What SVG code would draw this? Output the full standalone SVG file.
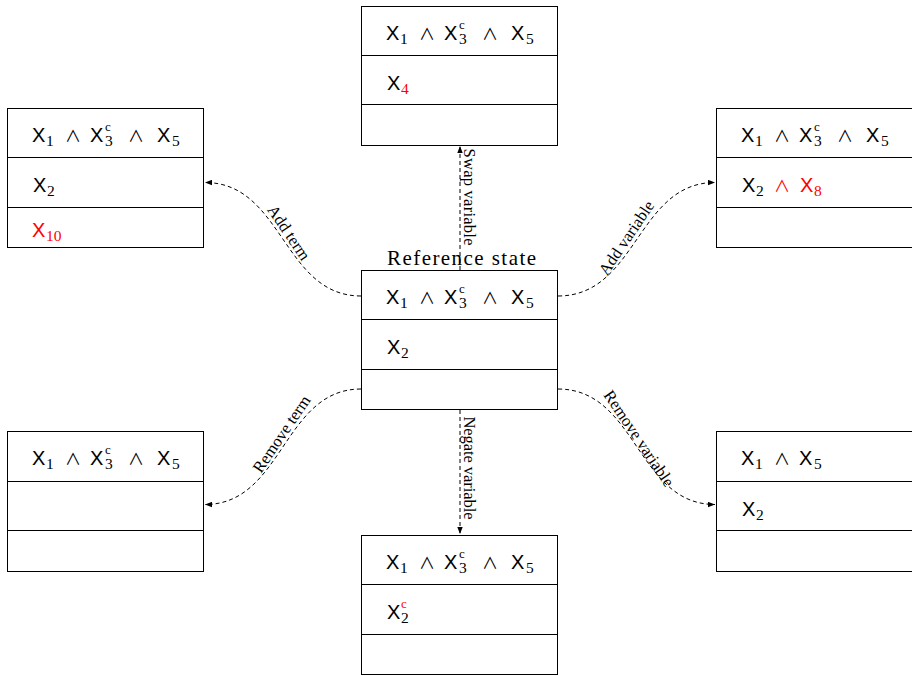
<svg xmlns="http://www.w3.org/2000/svg" width="912" height="676" viewBox="0 0 912 676">
<defs>
<style>
.box{fill:#fff;stroke:#000;stroke-width:1}
.div{stroke:#000;stroke-width:1}
.X{font-family:"Liberation Sans",Arial,sans-serif;font-size:20px}
.sub{font-family:"Liberation Serif","Times New Roman",serif;font-size:15.5px}
.sup{font-family:"Liberation Serif","Times New Roman",serif;font-size:13px}
.op{font-family:"Noto Sans CJK JP","DejaVu Sans",sans-serif;font-weight:400;font-size:16px;text-anchor:middle}
.red{fill:#ff0000}
.edge{fill:none;stroke:#000;stroke-width:1;stroke-dasharray:4 3;marker-end:url(#arr)}
.lbl{font-family:"Liberation Serif","Times New Roman",serif;font-size:16.5px;text-anchor:middle}
.title{font-family:"Liberation Serif","Times New Roman",serif;font-size:21px}
</style>
<marker id="arr" viewBox="0 0 7 6" refX="7" refY="3" markerWidth="7" markerHeight="6" markerUnits="userSpaceOnUse" orient="auto">
<path d="M0,0.3 L7,3 L0,5.7 z" fill="#000"/>
</marker>
</defs>
<rect width="912" height="676" fill="#fff"/>

<g id="connectors">
<path class="edge" d="M361,296 C283,296 283,182.5 205,182.5"/>
<path class="edge" d="M558,296 C637,296 637,182.5 715,182.5"/>
<path class="edge" d="M361,389 C283,389 283,504.5 205,504.5"/>
<path class="edge" d="M558,389 C637,389 637,504.5 715,504.5"/>
<path class="edge" d="M460,270 L460,146"/>
<path class="edge" d="M460,410 L460,534"/>
<text class="lbl" transform="translate(283,239) rotate(56)" x="-2" y="-3">Add term</text>
<text class="lbl" transform="translate(637,239) rotate(-56)" x="-5" y="-4">Add variable</text>
<text class="lbl" transform="translate(283,447) rotate(-56)" x="10" y="-3">Remove term</text>
<text class="lbl" transform="translate(637,447) rotate(56)" x="-6" y="-1">Remove variable</text>
<text class="lbl" transform="translate(464,197) rotate(90)" textLength="97">Swap variable</text>
<text class="lbl" transform="translate(464,468) rotate(90)" textLength="103">Negate variable</text>
</g>

<g id="ref-state">
<text class="title" x="387" y="265" textLength="149">Reference state</text>
<rect class="box" x="361.5" y="270.5" width="196" height="139"/>
<line class="div" x1="361.5" y1="319.5" x2="557.5" y2="319.5"/>
<line class="div" x1="361.5" y1="369.5" x2="557.5" y2="369.5"/>
<text><tspan class="X" x="386" y="304">X</tspan><tspan class="sub" x="400" y="308">1</tspan><tspan class="op" x="427" y="304">∧</tspan><tspan class="X" x="444" y="304">X</tspan><tspan class="sup" x="459" y="293">c</tspan><tspan class="sub" x="459" y="308">3</tspan><tspan class="op" x="490" y="304">∧</tspan><tspan class="X" x="511" y="304">X</tspan><tspan class="sub" x="526" y="308">5</tspan></text>
<text><tspan class="X" x="387" y="353.5">X</tspan><tspan class="sub" x="401" y="357.5">2</tspan></text>
</g>

<g id="swap-state">
<rect class="box" x="361.5" y="6.5" width="196" height="139"/>
<line class="div" x1="361.5" y1="55.5" x2="557.5" y2="55.5"/>
<line class="div" x1="361.5" y1="104.5" x2="557.5" y2="104.5"/>
<text><tspan class="X" x="386" y="40">X</tspan><tspan class="sub" x="400" y="44">1</tspan><tspan class="op" x="427" y="40">∧</tspan><tspan class="X" x="444" y="40">X</tspan><tspan class="sup" x="459" y="29">c</tspan><tspan class="sub" x="459" y="44">3</tspan><tspan class="op" x="490" y="40">∧</tspan><tspan class="X" x="511" y="40">X</tspan><tspan class="sub" x="526" y="44">5</tspan></text>
<text><tspan class="X" x="387" y="89.5">X</tspan><tspan class="sub red" x="401" y="93.5">4</tspan></text>
</g>

<g id="add-term-state">
<rect class="box" x="7.5" y="108.5" width="196" height="139"/>
<line class="div" x1="7.5" y1="157.5" x2="203.5" y2="157.5"/>
<line class="div" x1="7.5" y1="207.5" x2="203.5" y2="207.5"/>
<text><tspan class="X" x="32" y="142">X</tspan><tspan class="sub" x="46" y="146">1</tspan><tspan class="op" x="73" y="142">∧</tspan><tspan class="X" x="90" y="142">X</tspan><tspan class="sup" x="105" y="131">c</tspan><tspan class="sub" x="105" y="146">3</tspan><tspan class="op" x="136" y="142">∧</tspan><tspan class="X" x="157" y="142">X</tspan><tspan class="sub" x="172" y="146">5</tspan></text>
<text><tspan class="X" x="33" y="191.5">X</tspan><tspan class="sub" x="47" y="195.5">2</tspan></text>
<text class="red"><tspan class="X" x="32" y="236.5">X</tspan><tspan class="sub" x="46" y="240.5">10</tspan></text>
</g>

<g id="add-variable-state">
<rect class="box" x="716.5" y="108.5" width="197" height="139"/>
<line class="div" x1="716.5" y1="157.5" x2="913" y2="157.5"/>
<line class="div" x1="716.5" y1="207.5" x2="913" y2="207.5"/>
<text><tspan class="X" x="741" y="142">X</tspan><tspan class="sub" x="755" y="146">1</tspan><tspan class="op" x="782" y="142">∧</tspan><tspan class="X" x="799" y="142">X</tspan><tspan class="sup" x="814" y="131">c</tspan><tspan class="sub" x="814" y="146">3</tspan><tspan class="op" x="845" y="142">∧</tspan><tspan class="X" x="866" y="142">X</tspan><tspan class="sub" x="881" y="146">5</tspan></text>
<text><tspan class="X" x="742" y="191.5">X</tspan><tspan class="sub" x="756" y="195.5">2</tspan><tspan class="op red" x="782" y="191.5">∧</tspan><tspan class="X red" x="800" y="191.5">X</tspan><tspan class="sub red" x="814" y="195.5">8</tspan></text>
</g>

<g id="remove-term-state">
<rect class="box" x="7.5" y="431.5" width="196" height="140"/>
<line class="div" x1="7.5" y1="481.5" x2="203.5" y2="481.5"/>
<line class="div" x1="7.5" y1="530.5" x2="203.5" y2="530.5"/>
<text><tspan class="X" x="32" y="465">X</tspan><tspan class="sub" x="46" y="469">1</tspan><tspan class="op" x="73" y="465">∧</tspan><tspan class="X" x="90" y="465">X</tspan><tspan class="sup" x="105" y="454">c</tspan><tspan class="sub" x="105" y="469">3</tspan><tspan class="op" x="136" y="465">∧</tspan><tspan class="X" x="157" y="465">X</tspan><tspan class="sub" x="172" y="469">5</tspan></text>
</g>

<g id="remove-variable-state">
<rect class="box" x="716.5" y="431.5" width="197" height="140"/>
<line class="div" x1="716.5" y1="481.5" x2="913" y2="481.5"/>
<line class="div" x1="716.5" y1="530.5" x2="913" y2="530.5"/>
<text><tspan class="X" x="741" y="465">X</tspan><tspan class="sub" x="755" y="469">1</tspan><tspan class="op" x="782" y="465">∧</tspan><tspan class="X" x="799" y="465">X</tspan><tspan class="sub" x="814" y="469">5</tspan></text>
<text><tspan class="X" x="742" y="515.5">X</tspan><tspan class="sub" x="756" y="519.5">2</tspan></text>
</g>

<g id="negate-state">
<rect class="box" x="361.5" y="535.5" width="196" height="139"/>
<line class="div" x1="361.5" y1="584.5" x2="557.5" y2="584.5"/>
<line class="div" x1="361.5" y1="634.5" x2="557.5" y2="634.5"/>
<text><tspan class="X" x="386" y="569">X</tspan><tspan class="sub" x="400" y="573">1</tspan><tspan class="op" x="427" y="569">∧</tspan><tspan class="X" x="444" y="569">X</tspan><tspan class="sup" x="459" y="558">c</tspan><tspan class="sub" x="459" y="573">3</tspan><tspan class="op" x="490" y="569">∧</tspan><tspan class="X" x="511" y="569">X</tspan><tspan class="sub" x="526" y="573">5</tspan></text>
<text><tspan class="X" x="387" y="618.5">X</tspan><tspan class="sup red" x="401" y="607.5">c</tspan><tspan class="sub" x="401" y="622.5">2</tspan></text>
</g>
</svg>
